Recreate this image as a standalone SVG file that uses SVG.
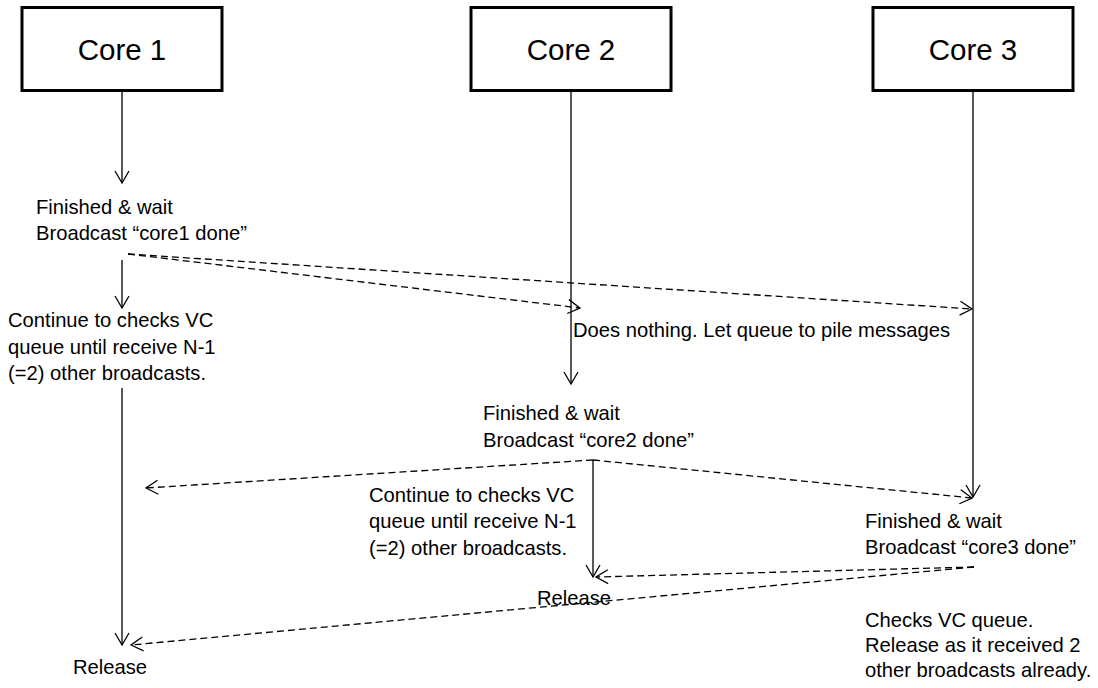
<svg xmlns="http://www.w3.org/2000/svg" width="1098" height="688" viewBox="0 0 1098 688">
<defs>
<style>
.box{fill:#fff;stroke:#000;stroke-width:3}
.title{font-family:"Liberation Sans",Arial,sans-serif;font-size:29.5px;fill:#000;text-anchor:middle}
.t{font-family:"Liberation Sans",Arial,sans-serif;font-size:20.2px;fill:#000}
.solid{fill:none;stroke:#000;stroke-width:1.3}
.dash{fill:none;stroke:#000;stroke-width:1.3;stroke-dasharray:7,4}
</style>
<marker id="arr" markerUnits="userSpaceOnUse" markerWidth="30" markerHeight="30" viewBox="-15 -15 30 30" refX="0" refY="0" orient="auto">
<path d="M-12,-7 L0,0 L-12,7" fill="none" stroke="#000" stroke-width="1.3" stroke-dasharray="none"/>
</marker>
</defs>
<rect width="1098" height="688" fill="#fff"/>
<g id="core1">
<rect class="box" x="22" y="7.5" width="200" height="83"/>
<text class="title" x="122" y="60">Core 1</text>
</g>
<g id="core2">
<rect class="box" x="471" y="7.5" width="200" height="83"/>
<text class="title" x="571" y="60">Core 2</text>
</g>
<g id="core3">
<rect class="box" x="873" y="7.5" width="200" height="83"/>
<text class="title" x="973" y="60">Core 3</text>
</g>
<g id="core1-finish">
<text class="t" x="36" y="214">Finished &amp; wait</text>
<text class="t" x="36" y="240">Broadcast “core1 done”</text>
</g>
<g id="core1-wait">
<text class="t" x="8" y="327">Continue to checks VC</text>
<text class="t" x="8" y="353.5">queue until receive N-1</text>
<text class="t" x="8" y="380">(=2) other broadcasts.</text>
</g>
<g id="core1-release">
<text class="t" x="73" y="674">Release</text>
</g>
<g id="core2-nothing">
<text class="t" x="573" y="337">Does nothing. Let queue to pile messages</text>
</g>
<g id="core2-finish">
<text class="t" x="483" y="420">Finished &amp; wait</text>
<text class="t" x="483" y="446.5">Broadcast “core2 done”</text>
</g>
<g id="core2-wait">
<text class="t" x="369" y="501.5">Continue to checks VC</text>
<text class="t" x="369" y="528">queue until receive N-1</text>
<text class="t" x="369" y="554.5">(=2) other broadcasts.</text>
</g>
<g id="core2-release">
<text class="t" x="537" y="605">Release</text>
</g>
<g id="core3-finish">
<text class="t" x="865" y="527.5">Finished &amp; wait</text>
<text class="t" x="865" y="554">Broadcast “core3 done”</text>
</g>
<g id="core3-release">
<text class="t" x="865" y="626.5">Checks VC queue.</text>
<text class="t" x="865" y="651.5">Release as it received 2</text>
<text class="t" x="865" y="676.5">other broadcasts already.</text>
</g>
<g id="connectors">
<path class="solid" d="M122,91 V183" marker-end="url(#arr)"/>
<path class="solid" d="M122,260 V308" marker-end="url(#arr)"/>
<path class="solid" d="M122,388 V645" marker-end="url(#arr)"/>
<path class="solid" d="M571,91 V384" marker-end="url(#arr)"/>
<path class="solid" d="M593,460 V577" marker-end="url(#arr)"/>
<path class="solid" d="M973,91 V497" marker-end="url(#arr)"/>
<path class="dash" d="M128,254 L580,308" marker-end="url(#arr)"/>
<path class="dash" d="M128,254 L972,309" marker-end="url(#arr)"/>
<path class="dash" d="M593,460 L146,488" marker-end="url(#arr)"/>
<path class="dash" d="M593,460 L972,498" marker-end="url(#arr)"/>
<path class="dash" d="M974,567 L596,577" marker-end="url(#arr)"/>
<path class="dash" d="M974,567 L131,645" marker-end="url(#arr)"/>
</g>
</svg>
